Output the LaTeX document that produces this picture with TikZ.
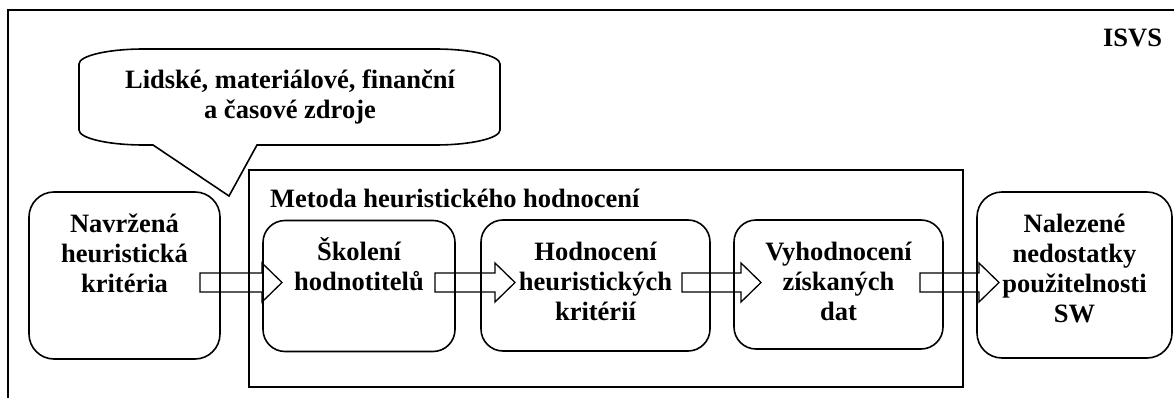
\documentclass[tikz,border=0pt]{standalone}
\usepackage{fontspec}
\setmainfont{Liberation Serif}
\usetikzlibrary{calc}

% box content: fixed-size parbox, lines centred, first baseline 40pt below the top
\newcommand\boxlines[3]{\parbox[c][#2][t]{#1}{\centering\lineskiplimit=-100pt\rule{0pt}{40pt}#3}}

% hollow block arrow from node #1 to node #2 on the arrow axis (ay);
% #3 = how far the tail starts inside #1, #4 = how far the tip reaches into #2
\newcommand\blockarrow[4]{%
  \draw[arrowline]
    ($(#1.east |- ay)+(-#3,-9.5)$) -- ($(#2.west |- ay)+(#4-20,-9.5)$)
    -- ($(#2.west |- ay)+(#4-20,-19.5)$) -- ($(#2.west |- ay)+(#4,0)$)
    -- ($(#2.west |- ay)+(#4-20,19.5)$) -- ($(#2.west |- ay)+(#4-20,9.5)$)
    -- ($(#1.east |- ay)+(-#3,9.5)$) -- cycle;}

\begin{document}
\begin{tikzpicture}[x=1pt,y=-1pt,
  every node/.style={font=\bfseries\fontsize{26.5}{30}\selectfont, inner sep=0pt, outer sep=0pt},
  stepbox/.style={draw, line width=1.6pt, rounded corners=22pt, fill=white},
  endbox/.style={stepbox, rounded corners=25pt},
  frameline/.style={draw, line width=1.6pt},
  arrowline/.style={line width=1.3pt, line join=miter},
  bubble/.style={draw, line width=1.6pt, fill=white, line join=miter}]

\useasboundingbox (0,0) rectangle (1174,398);
\clip (0,0) rectangle (1174,398);

% system frame (runs on past the page edges)
\draw[frameline] (8,410) -- (8,10) -- (1190,10);
\node[anchor=base east] (isvs) at (1162,47) {ISVS};

% speech bubble with resources
\draw[bubble]
  (144,49) -- (435,49)
  .. controls (470.9,49) and (500,55.7) .. (500,64)
  -- (500,130)
  .. controls (500,138.3) and (470.9,145) .. (435,145)
  -- (257,145) -- (229,196) -- (153,145) -- (144,145)
  .. controls (108.1,145) and (79,138.3) .. (79,130)
  -- (79,64)
  .. controls (79,55.7) and (108.1,49) .. (144,49) -- cycle;
\node[align=center] (resources) at (290,97) {Lidské, materiálové, finanční\\a časové zdroje};

% method frame
\node[frameline, minimum width=714pt, minimum height=217pt] (method) at (606,278.5) {};
\node[anchor=base west] (methodlabel) at (270,207) {Metoda heuristického hodnocení};

% input, steps, output
\node[endbox] (nav) at (124.5,275.5) {\boxlines{191pt}{167pt}{Navržená\\heuristická\\kritéria}};
\node[stepbox] (sko) at (359,286) {\boxlines{192pt}{131pt}{Školení\\hodnotitelů}};
\node[stepbox] (hod) at (595.5,285.5) {\boxlines{229pt}{131pt}{Hodnocení\\heuristických\\kritérií}};
\node[stepbox] (vyh) at (838.5,284.5) {\boxlines{209pt}{129pt}{Vyhodnocení\\získaných\\dat}};
\node[endbox] (nal) at (1074.5,275) {\boxlines{195pt}{166pt}{Nalezené\\nedostatky\\použitelnosti\\SW}};

% flow arrows
\coordinate (ay) at (0,282.5);
\blockarrow{nav}{sko}{20}{19}
\blockarrow{sko}{hod}{20}{34}
\blockarrow{hod}{vyh}{28}{27}
\blockarrow{vyh}{nal}{23}{22}
\end{tikzpicture}
\end{document}
